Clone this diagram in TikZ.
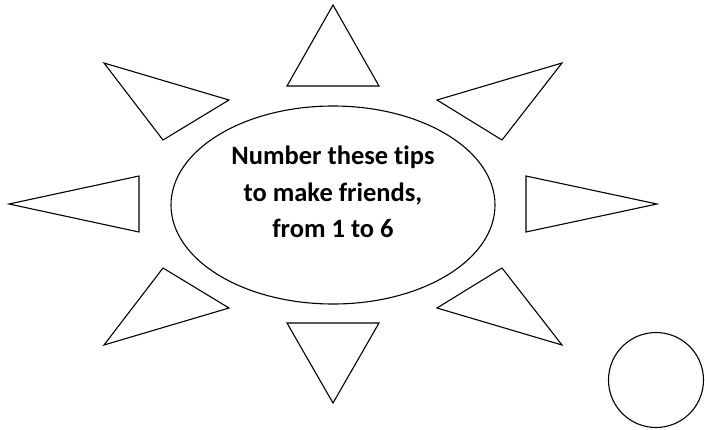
\documentclass[tikz,border=0pt]{standalone}
\usepackage{fontspec}
\setmainfont{Carlito}[Ligatures=NoCommon]
\usetikzlibrary{shapes.geometric}

\begin{document}
\begin{tikzpicture}[
  x=1pt, y=-1pt,
  ray/.style={draw, line width=1.1pt, line join=miter},
  centre/.style={ellipse, draw, line width=1.1pt, minimum width=324pt, minimum height=198pt, inner sep=0pt},
  tiptext/.style={align=center, font=\fontsize{26.5}{36.5}\selectfont\bfseries},
  spare/.style={circle, draw, line width=1.1pt, minimum size=95pt, inner sep=0pt}
]
\useasboundingbox (0,0) rectangle (705,429);

\node[centre] (sun) at (333,205) {};
\node[tiptext] (tips) at (333,192) {Number these tips\\to make friends,\\from 1 to 6};

% rays round the sun
\draw[ray] (333,5) -- (379,86) -- (287,86) -- cycle;
\draw[ray] (104,63) -- (229,100) -- (163,140) -- cycle;
\draw[ray] (562,63) -- (437,100) -- (502,140) -- cycle;
\draw[ray] (9,204) -- (139,176) -- (139,232) -- cycle;
\draw[ray] (657,204) -- (526,176) -- (526,232) -- cycle;
\draw[ray] (104,345) -- (229,308) -- (163,268) -- cycle;
\draw[ray] (562,345) -- (437,308) -- (502,268) -- cycle;
\draw[ray] (333,403) -- (379,323) -- (287,323) -- cycle;

\node[spare] (dot) at (656,380) {};
\end{tikzpicture}
\end{document}
